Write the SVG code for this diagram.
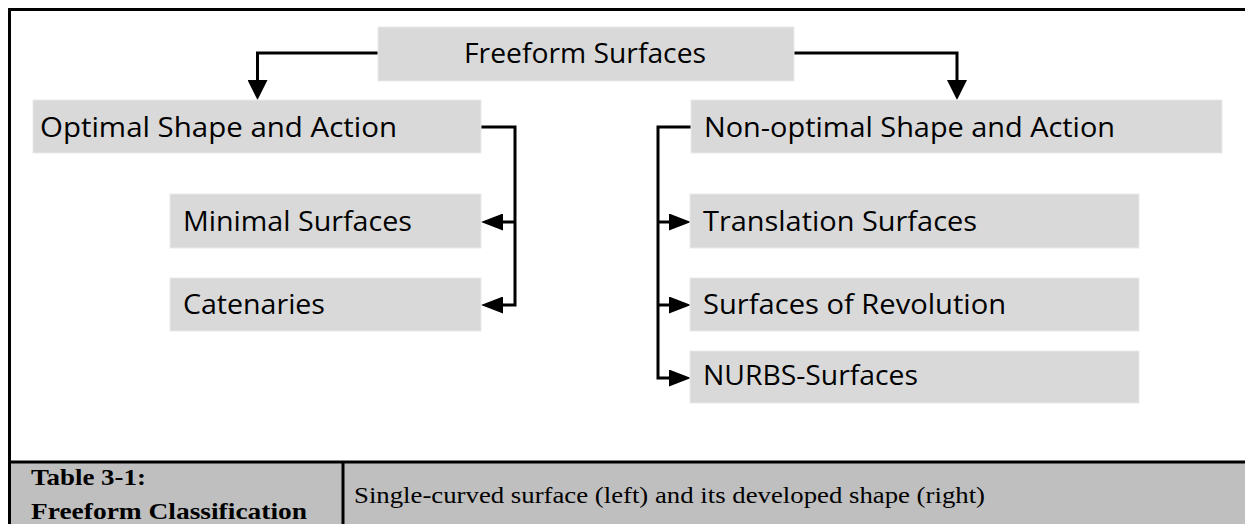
<svg xmlns="http://www.w3.org/2000/svg" width="1245" height="524" viewBox="0 0 1245 524">
  <style>
    .box { fill: #d9d9d9; stroke: #e9e9e9; stroke-width: 1; }
    .lbl { font-family: "Open Sans", "Noto Sans", sans-serif; font-size: 27px; fill: #000; }
    .wire { fill: none; stroke: #000; stroke-width: 3; }
    .frame { stroke: #000; stroke-width: 3; }
    .cellhead { font-family: "Liberation Serif", "DejaVu Serif", serif; font-weight: bold; font-size: 24px; fill: #000; }
    .caption { font-family: "Liberation Serif", "Times New Roman", serif; font-size: 24px; fill: #000; }
  </style>
  <defs>
    <!-- filled triangular heads; tip sits 10px past the path end -->
    <marker id="head-v" markerUnits="userSpaceOnUse" markerWidth="20" markerHeight="20" refX="10" refY="10" orient="auto">
      <path d="M0,0 L20,10 L0,20 Z" fill="#000"/>
    </marker>
    <marker id="head-h" markerUnits="userSpaceOnUse" markerWidth="22" markerHeight="17" refX="11" refY="8.5" orient="auto">
      <path d="M0,0 L22,8.5 L0,17 Z" fill="#000"/>
    </marker>
  </defs>

  <rect width="1245" height="524" fill="#fff"/>

  <!-- outer frame -->
  <line class="frame" x1="9.5" y1="9.5" x2="1245" y2="9.5"/>
  <line class="frame" x1="9.5" y1="8" x2="9.5" y2="524"/>

  <g id="connectors">
    <path class="wire" d="M378,53 H257.5 V90" marker-end="url(#head-v)"/>
    <path class="wire" d="M794,53 H957 V90" marker-end="url(#head-v)"/>
    <path class="wire" d="M481,127 H515 V305 H492" marker-end="url(#head-h)"/>
    <path class="wire" d="M515,222 H492" marker-end="url(#head-h)"/>
    <path class="wire" d="M691,127 H658 V378 H680" marker-end="url(#head-h)"/>
    <path class="wire" d="M658,222 H680" marker-end="url(#head-h)"/>
    <path class="wire" d="M658,305 H680" marker-end="url(#head-h)"/>
  </g>

  <g id="freeform-surfaces">
    <rect class="box" x="378" y="27" width="416" height="54"/>
    <text class="lbl" x="464" y="63" textLength="242" lengthAdjust="spacingAndGlyphs">Freeform Surfaces</text>
  </g>
  <g id="optimal">
    <rect class="box" x="33" y="100" width="448" height="53"/>
    <text class="lbl" x="40" y="137" textLength="357" lengthAdjust="spacingAndGlyphs">Optimal Shape and Action</text>
  </g>
  <g id="non-optimal">
    <rect class="box" x="691" y="100" width="531" height="53"/>
    <text class="lbl" x="704" y="137" textLength="411" lengthAdjust="spacingAndGlyphs">Non-optimal Shape and Action</text>
  </g>
  <g id="minimal-surfaces">
    <rect class="box" x="170" y="194" width="311" height="54"/>
    <text class="lbl" x="183" y="231" textLength="229" lengthAdjust="spacingAndGlyphs">Minimal Surfaces</text>
  </g>
  <g id="catenaries">
    <rect class="box" x="170" y="278" width="311" height="53"/>
    <text class="lbl" x="183" y="314" textLength="142" lengthAdjust="spacingAndGlyphs">Catenaries</text>
  </g>
  <g id="translation-surfaces">
    <rect class="box" x="690" y="194" width="449" height="54"/>
    <text class="lbl" x="703" y="231" textLength="274" lengthAdjust="spacingAndGlyphs">Translation Surfaces</text>
  </g>
  <g id="surfaces-of-revolution">
    <rect class="box" x="690" y="278" width="449" height="53"/>
    <text class="lbl" x="703" y="314" textLength="303" lengthAdjust="spacingAndGlyphs">Surfaces of Revolution</text>
  </g>
  <g id="nurbs-surfaces">
    <rect class="box" x="690" y="351" width="449" height="52"/>
    <text class="lbl" x="703" y="385" textLength="215" lengthAdjust="spacingAndGlyphs">NURBS-Surfaces</text>
  </g>

  <!-- caption row -->
  <g id="caption-row">
    <rect x="9.5" y="462" width="1236" height="62" fill="#bfbfbf"/>
    <line class="frame" x1="8" y1="462" x2="1245" y2="462"/>
    <line class="frame" x1="9.5" y1="462" x2="9.5" y2="524"/>
    <line class="frame" x1="343" y1="462" x2="343" y2="524"/>
    <text class="cellhead" x="31" y="485" textLength="115" lengthAdjust="spacingAndGlyphs">Table 3-1:</text>
    <text class="cellhead" x="31" y="519" textLength="276" lengthAdjust="spacingAndGlyphs">Freeform Classification</text>
    <text class="caption" x="354" y="503" textLength="631" lengthAdjust="spacingAndGlyphs">Single-curved surface (left) and its developed shape (right)</text>
  </g>
</svg>
